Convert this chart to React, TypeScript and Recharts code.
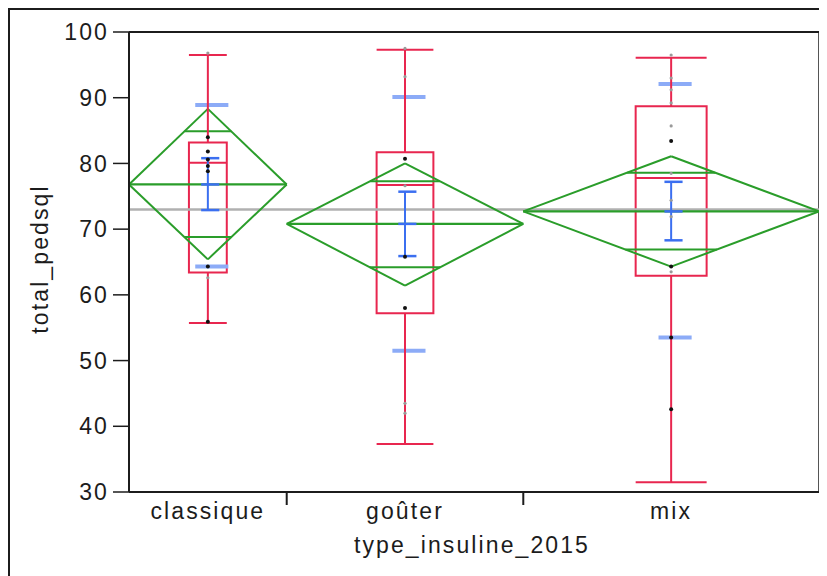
import React from 'react';
import { ComposedChart, XAxis, YAxis, ReferenceLine, ReferenceArea, Scatter } from 'recharts';

// ---------- data ----------
const categories = ['classique', 'goûter', 'mix'];
const counts = [8, 12, 15];
const whiskerHigh = [96.5, 97.3, 96.1];
const quartile3 = [83.2, 81.7, 88.7];
const medians = [80.1, 76.7, 77.8];
const quartile1 = [63.4, 57.2, 62.9];
const whiskerLow = [55.7, 37.3, 31.5];
const means = [76.8, 70.8, 72.7];
const ciUpper = [88.3, 80.0, 81.1];
const ciLower = [65.4, 61.4, 64.3];
const overlapUpper = [84.9, 77.3, 78.6];
const overlapLower = [68.8, 64.2, 66.9];
const sdUpper = [88.9, 90.1, 92.1];
const sdLower = [64.3, 51.5, 53.5];
const seUpper = [80.8, 75.7, 77.2];
const seLower = [72.9, 65.9, 68.3];
const grandMean = 73.0;
const yTicks = [30, 40, 50, 60, 70, 80, 90, 100];
const blackPoints = [
  [84.0, 81.8, 80.6, 79.6, 78.8, 64.3, 55.9],
  [80.7, 65.8, 58.0],
  [83.4, 64.3, 53.5, 42.6],
];
const greyPoints = [
  [96.8, 62.6],
  [97.5, 93.2, 76.6, 43.5, 42.0],
  [96.5, 93.0, 91.2, 89.2, 85.7, 78.5, 74.4, 71.9, 63.5],
];

// ---------- layout / style constants ----------
const RED = '#e8264f';
const GREEN = '#2a9d2a';
const LIGHT_BLUE = '#8cabf7';
const BLUE = '#3b6ff0';
const GREY_LINE = '#b0b0b0';
const INK = '#1c1c1c';
const FONT = "'Liberation Sans', Arial, sans-serif";
const FS = 23;
const LS = 2.1;
const BOX_FRAC = 0.24;
const SD_HALF = 0.84;
const SD_OFF = 0.2;
const SE_HALF = 0.46;
const SE_OFF = 0.12;

const total = counts.reduce((a, b) => a + b, 0);
const starts: number[] = [];
counts.reduce((acc, n, i) => {
  starts[i] = acc;
  return acc + n;
}, 0);
const centers = counts.map((n, i) => starts[i] + n / 2);
const boundaries = starts.slice(1);
const xTicks = [...centers, ...boundaries].sort((a, b) => a - b);

type Seg = { x1: number; y1: number; x2: number; y2: number; color: string; w: number };
const segs: Seg[] = [];
// light blue std dev bars
categories.forEach((_, i) => {
  const c = centers[i] + SD_OFF;
  segs.push({ x1: c - SD_HALF, y1: sdUpper[i], x2: c + SD_HALF, y2: sdUpper[i], color: LIGHT_BLUE, w: 4 });
  segs.push({ x1: c - SD_HALF, y1: sdLower[i], x2: c + SD_HALF, y2: sdLower[i], color: LIGHT_BLUE, w: 4 });
});
// green means diamonds
categories.forEach((_, i) => {
  const s = starts[i];
  const e = s + counts[i];
  const c = centers[i];
  const m = means[i];
  segs.push({ x1: s, y1: m, x2: c, y2: ciUpper[i], color: GREEN, w: 2 });
  segs.push({ x1: c, y1: ciUpper[i], x2: e, y2: m, color: GREEN, w: 2 });
  segs.push({ x1: e, y1: m, x2: c, y2: ciLower[i], color: GREEN, w: 2 });
  segs.push({ x1: c, y1: ciLower[i], x2: s, y2: m, color: GREEN, w: 2 });
  segs.push({ x1: s, y1: m, x2: e, y2: m, color: GREEN, w: 2.2 });
  const half = counts[i] / 2;
  const hu = half * (1 - (overlapUpper[i] - m) / (ciUpper[i] - m));
  const hl = half * (1 - (m - overlapLower[i]) / (m - ciLower[i]));
  segs.push({ x1: c - hu, y1: overlapUpper[i], x2: c + hu, y2: overlapUpper[i], color: GREEN, w: 2 });
  segs.push({ x1: c - hl, y1: overlapLower[i], x2: c + hl, y2: overlapLower[i], color: GREEN, w: 2 });
});
// red box plot parts
categories.forEach((_, i) => {
  const c = centers[i];
  const hb = (counts[i] * BOX_FRAC) / 2;
  segs.push({ x1: c, y1: quartile3[i], x2: c, y2: whiskerHigh[i], color: RED, w: 2 });
  segs.push({ x1: c, y1: quartile1[i], x2: c, y2: whiskerLow[i], color: RED, w: 2 });
  segs.push({ x1: c - hb, y1: whiskerHigh[i], x2: c + hb, y2: whiskerHigh[i], color: RED, w: 2 });
  segs.push({ x1: c - hb, y1: whiskerLow[i], x2: c + hb, y2: whiskerLow[i], color: RED, w: 2 });
  segs.push({ x1: c - hb, y1: medians[i], x2: c + hb, y2: medians[i], color: RED, w: 2 });
});
// blue mean error bars
categories.forEach((_, i) => {
  const c = centers[i];
  const cc = c + SE_OFF;
  segs.push({ x1: c, y1: seLower[i], x2: c, y2: seUpper[i], color: BLUE, w: 2 });
  segs.push({ x1: cc - SE_HALF, y1: seUpper[i], x2: cc + SE_HALF, y2: seUpper[i], color: BLUE, w: 2.5 });
  segs.push({ x1: cc - SE_HALF, y1: seLower[i], x2: cc + SE_HALF, y2: seLower[i], color: BLUE, w: 2.5 });
  segs.push({ x1: cc - SE_HALF, y1: means[i], x2: cc + SE_HALF, y2: means[i], color: BLUE, w: 2.5 });
});

const blackData = blackPoints.flatMap((arr, i) => arr.map((y) => ({ x: centers[i], y })));
const greyData = greyPoints.flatMap((arr, i) => arr.map((y) => ({ x: centers[i], y })));

const XTick = (props: any) => {
  const { x, y, payload } = props;
  const v = payload.value;
  if (boundaries.some((b) => Math.abs(b - v) < 1e-6)) {
    return <line x1={x} x2={x} y1={y} y2={y + 13} stroke={INK} strokeWidth={2} />;
  }
  const ci = centers.findIndex((c) => Math.abs(c - v) < 1e-6);
  return (
    <text x={x} y={y + 27} textAnchor="middle" fill={INK} fontSize={FS} fontFamily={FONT} letterSpacing={LS}>
      {ci >= 0 ? categories[ci] : ''}
    </text>
  );
};

const YTitle = (props: any) => {
  const vb = props.viewBox || { x: 21, y: 24, width: 100, height: 460 };
  const cx = vb.x + 11;
  const cy = vb.y + vb.height / 2 - 3;
  return (
    <text
      x={cx}
      y={cy}
      transform={`rotate(-90 ${cx} ${cy})`}
      textAnchor="middle"
      dominantBaseline="central"
      fill={INK}
      fontSize={FS}
      fontFamily={FONT}
      letterSpacing={LS}
    >
      total_pedsql
    </text>
  );
};

const XTitle = (props: any) => {
  const vb = props.viewBox || { x: 121, y: 484, width: 690, height: 60 };
  const cx = vb.x + vb.width / 2 - 2;
  const cy = vb.y + 61;
  return (
    <text x={cx} y={cy} textAnchor="middle" fill={INK} fontSize={FS} fontFamily={FONT} letterSpacing={LS}>
      type_insuline_2015
    </text>
  );
};

export default function App() {
  return (
    <div style={{ position: 'relative', width: 819, height: 568 }}>
      <ComposedChart
        width={819}
        height={568}
        margin={{ top: 24, right: 8, bottom: 24, left: 21 }}
        style={{ fontFamily: FONT }}
      >
        <XAxis
          type="number"
          dataKey="x"
          domain={[0, total]}
          allowDataOverflow
          ticks={xTicks}
          interval={0}
          tick={<XTick />}
          tickLine={false}
          tickSize={0}
          tickMargin={0}
          height={60}
          axisLine={{ stroke: INK, strokeWidth: 2 }}
          label={{ content: (p: any) => <XTitle {...p} /> }}
        />
        <YAxis
          type="number"
          dataKey="y"
          domain={[30, 100]}
          allowDataOverflow
          ticks={yTicks}
          interval={0}
          width={100}
          tickSize={16}
          tickMargin={4}
          tick={{ fill: INK, fontSize: FS, fontFamily: FONT, letterSpacing: LS }}
          tickLine={{ stroke: INK, strokeWidth: 1.5 }}
          axisLine={{ stroke: INK, strokeWidth: 2 }}
          label={{ content: (p: any) => <YTitle {...p} /> }}
        />
        <ReferenceLine y={100} stroke={INK} strokeWidth={2} ifOverflow="visible" />
        <ReferenceLine x={total} stroke={INK} strokeWidth={1.5} ifOverflow="visible" />
        <ReferenceLine y={grandMean} stroke={GREY_LINE} strokeWidth={2.5} ifOverflow="visible" />
        {segs.map((s, k) => (
          <ReferenceLine
            key={`seg-${k}`}
            segment={[
              { x: s.x1, y: s.y1 },
              { x: s.x2, y: s.y2 },
            ]}
            stroke={s.color}
            strokeWidth={s.w}
            ifOverflow="visible"
          />
        ))}
        {categories.map((_, i) => {
          const hb = (counts[i] * BOX_FRAC) / 2;
          return (
            <ReferenceArea
              key={`box-${i}`}
              x1={centers[i] - hb}
              x2={centers[i] + hb}
              y1={quartile1[i]}
              y2={quartile3[i]}
              fill="none"
              fillOpacity={0}
              stroke={RED}
              strokeWidth={2}
              ifOverflow="visible"
            />
          );
        })}
        <Scatter
          data={greyData}
          dataKey="y"
          isAnimationActive={false}
          fill="#9a9a9a"
          shape={(p: any) => <circle cx={p.cx} cy={p.cy} r={1.6} fill="#9a9a9a" />}
        />
        <Scatter
          data={blackData}
          dataKey="y"
          isAnimationActive={false}
          fill="#111"
          shape={(p: any) => <circle cx={p.cx} cy={p.cy} r={2} fill="#111" />}
        />
      </ComposedChart>
      <div
        style={{
          position: 'absolute',
          left: 0,
          top: 0,
          width: 819,
          height: 568,
          borderTop: `2px solid ${INK}`,
          borderLeft: `2px solid ${INK}`,
          boxSizing: 'border-box',
          pointerEvents: 'none',
        }}
      />
    </div>
  );
}
